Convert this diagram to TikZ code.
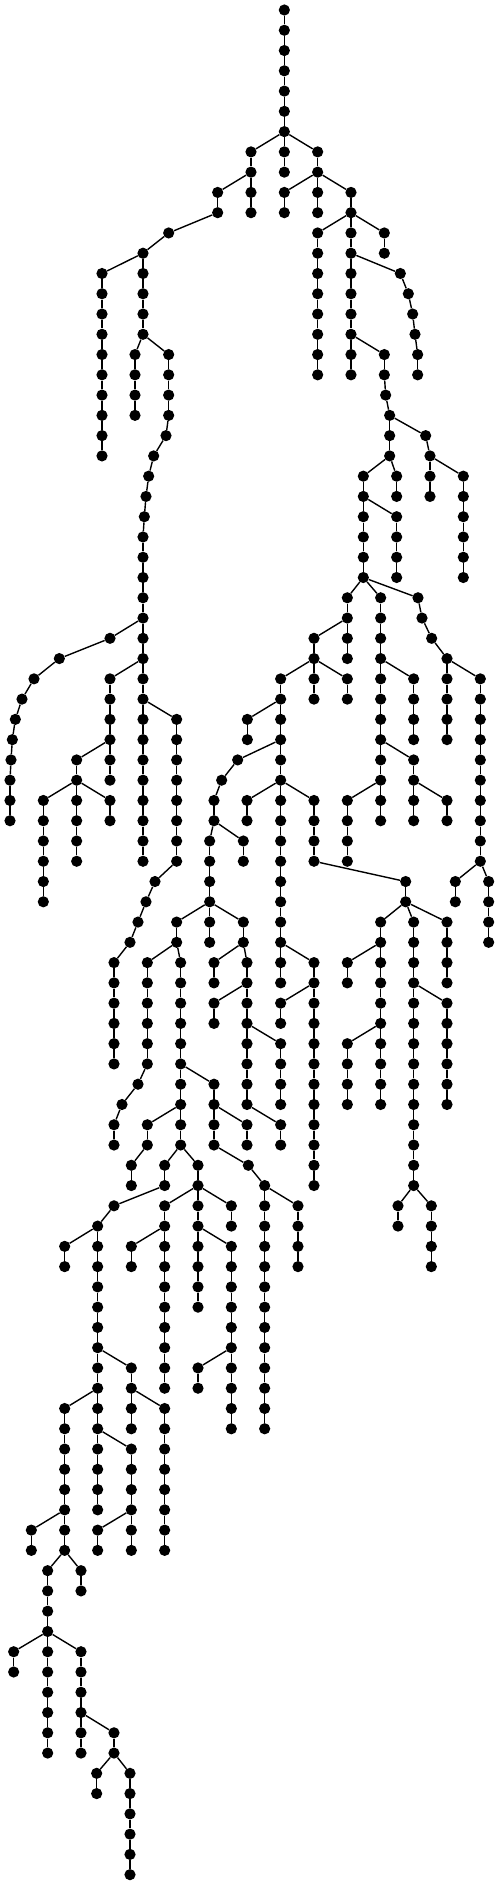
\documentclass[tikz,border=0pt]{standalone}
\begin{document}
\begin{tikzpicture}[x=0.33333pt, y=-20.268pt,
  dot/.style={circle, fill=black, draw=none, inner sep=0pt, minimum size=11.2pt},
  edge/.style={line width=1.4pt, black}]
\useasboundingbox (0pt,10pt) rectangle (499pt,-1875pt);
% vertical runs: x / first row / last row
\foreach \xx/\a/\b in {853/0/8, 753/7/10, 953/7/10, 653/9/10, 853/9/10, 1053/9/18, 506/11/11, 429/12/16, 306/13/22, 953/11/18, 1153/11/12, 1201/13/13, 1225/14/14, 1238/15/15, 1245/16/16, 1253/17/18, 405/17/20, 506/17/20, 498/21/21, 461/22/22, 446/23/23, 438/24/24, 433/25/25, 429/26/42, 1153/17/18, 1157/19/19, 1169/20/22, 1277/21/21, 1290/22/24, 1090/23/28, 1190/23/24, 1390/23/28, 1190/25/28, 1042/29/32, 1142/29/40, 1254/29/29, 1266/30/30, 1295/31/31, 1341/32/36, 942/31/34, 330/31/31, 178/32/32, 102/33/33, 66/34/34, 46/35/35, 37/36/36, 33/37/37, 30/38/40, 330/33/38, 842/33/48, 1042/33/34, 1241/33/36, 1441/33/42, 742/35/36, 530/35/42, 230/37/42, 713/37/37, 665/38/38, 642/39/40, 1241/37/40, 130/39/44, 330/39/40, 741/39/40, 942/39/42, 1042/39/42, 1341/39/40, 629/41/46, 730/41/42, 465/43/43, 438/44/44, 414/45/45, 390/46/46, 342/47/52, 1217/43/44, 1366/43/44, 1466/43/46, 530/45/46, 730/45/46, 1142/45/54, 1241/45/58, 1341/45/48, 442/47/52, 414/53/53, 366/54/54, 342/55/56, 542/47/56, 642/47/48, 741/47/54, 942/47/58, 1042/47/48, 642/49/50, 842/49/50, 1341/49/54, 842/51/54, 1042/51/54, 642/53/56, 745/57/57, 794/58/70, 741/55/56, 842/55/56, 442/55/56, 394/57/58, 494/57/58, 342/59/59, 293/60/74, 594/57/64, 894/59/62, 1194/59/60, 1294/59/62, 494/59/68, 694/59/60, 194/61/62, 394/61/62, 694/61/70, 394/67/70, 594/67/68, 194/69/76, 494/69/76, 394/71/76, 94/75/76, 293/75/76, 143/77/86, 243/77/78, 41/81/82, 243/81/86, 342/85/86, 290/87/88, 390/87/92}{
  \foreach \k in {\a,...,\b}{
    \node[dot] (n\xx-\k) at (\xx,\k) {};
  }
  \ifnum\a<\b
    \pgfmathtruncatemacro\bm{\b-1}
    \foreach \k in {\a,...,\bm}{
      \pgfmathtruncatemacro\kn{\k+1}
      \draw[edge] (n\xx-\k) -- (n\xx-\kn);
    }
  \fi
}
% branching connectors: parent x / row / child x / row
\foreach \xa/\ka/\xb/\kb in {853/6/753/7, 853/6/953/7, 753/8/653/9, 953/8/853/9, 953/8/1053/9, 653/10/506/11, 506/11/429/12, 429/12/306/13, 1053/10/953/11, 1053/10/1153/11, 1053/12/1201/13, 1201/13/1225/14, 1225/14/1238/15, 1238/15/1245/16, 1245/16/1253/17, 429/16/405/17, 429/16/506/17, 1053/16/1153/17, 506/20/498/21, 498/21/461/22, 461/22/446/23, 446/23/438/24, 438/24/433/25, 433/25/429/26, 1153/18/1157/19, 1157/19/1169/20, 1169/20/1277/21, 1277/21/1290/22, 1169/22/1090/23, 1169/22/1190/23, 1290/22/1390/23, 1090/24/1190/25, 1090/28/1042/29, 1090/28/1142/29, 1090/28/1254/29, 1254/29/1266/30, 1266/30/1295/31, 1295/31/1341/32, 1042/30/942/31, 429/30/330/31, 330/31/178/32, 178/32/102/33, 102/33/66/34, 66/34/46/35, 46/35/37/36, 37/36/33/37, 33/37/30/38, 429/32/330/33, 942/32/842/33, 942/32/1042/33, 1142/32/1241/33, 1341/32/1441/33, 429/34/530/35, 842/34/742/35, 330/36/230/37, 842/36/713/37, 713/37/665/38, 665/38/642/39, 1142/36/1241/37, 230/38/130/39, 230/38/330/39, 842/38/741/39, 842/38/942/39, 1142/38/1042/39, 1241/38/1341/39, 642/40/629/41, 642/40/730/41, 530/42/465/43, 465/43/438/44, 438/44/414/45, 414/45/390/46, 390/46/342/47, 942/42/1217/43, 1441/42/1366/43, 1441/42/1466/43, 629/44/530/45, 629/44/730/45, 1217/44/1142/45, 1217/44/1241/45, 1217/44/1341/45, 530/46/442/47, 530/46/542/47, 730/46/642/47, 730/46/741/47, 842/46/942/47, 1142/46/1042/47, 741/48/642/49, 942/48/842/49, 1241/48/1341/49, 741/50/842/51, 1142/50/1042/51, 442/52/414/53, 414/53/366/54, 366/54/342/55, 542/52/642/53, 542/54/442/55, 642/54/741/55, 741/54/842/55, 442/56/394/57, 542/56/494/57, 542/56/594/57, 642/56/745/57, 745/57/794/58, 494/58/342/59, 342/59/293/60, 594/58/494/59, 594/58/694/59, 794/58/894/59, 1241/58/1194/59, 1241/58/1294/59, 293/60/194/61, 494/60/394/61, 594/60/694/61, 293/66/394/67, 694/66/594/67, 293/68/194/69, 394/68/494/69, 293/70/394/71, 194/74/94/75, 394/74/293/75, 194/76/143/77, 194/76/243/77, 143/80/41/81, 143/80/243/81, 243/84/342/85, 342/86/290/87, 342/86/390/87}{
  \draw[edge] (n\xa-\ka) -- (n\xb-\kb);
}
\end{tikzpicture}
\end{document}
